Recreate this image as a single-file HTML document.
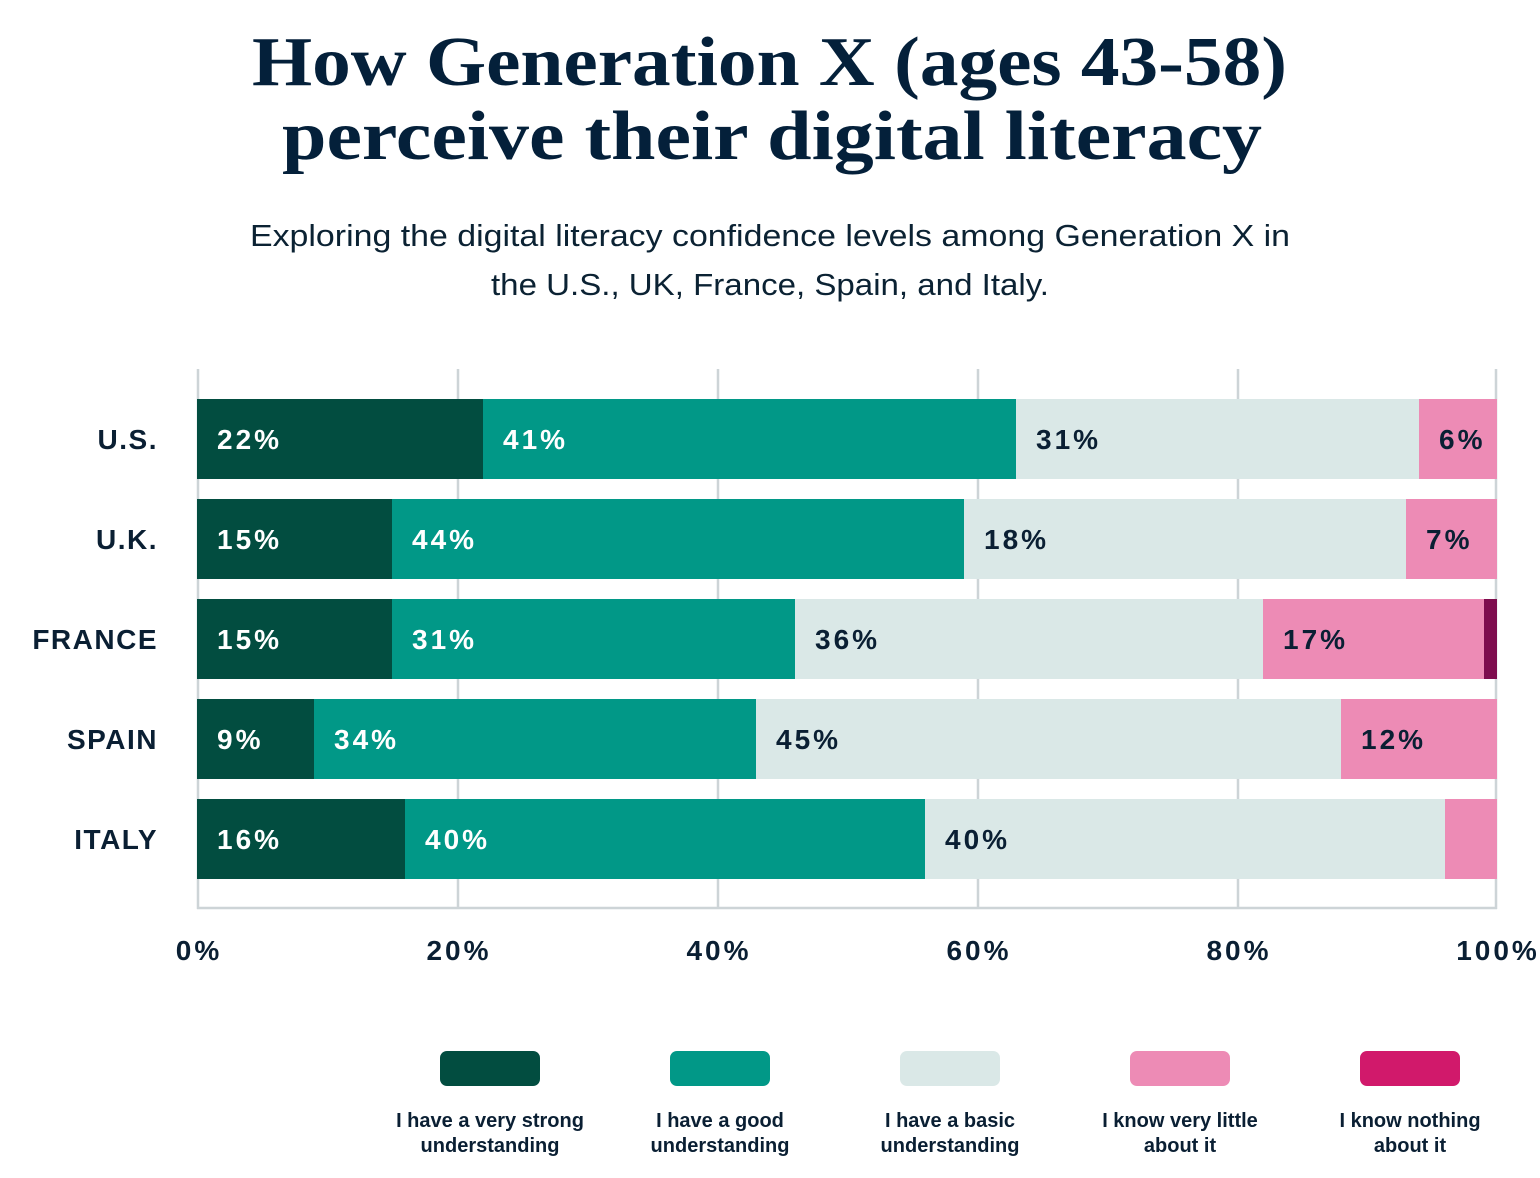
<!DOCTYPE html>
<html>
<head>
<meta charset="utf-8">
<style>
  html, body { margin: 0; padding: 0; background: #ffffff; }
  body { width: 1540px; height: 1178px; overflow: hidden; }
  svg { display: block; }
  .title { font-family: "Liberation Serif", serif; font-weight: bold; font-size: 70px; fill: #04203A; }
  .sub { font-family: "Liberation Sans", sans-serif; font-size: 31px; fill: #0B2233; }
  .cty { font-family: "Liberation Sans", sans-serif; font-weight: bold; font-size: 28px; fill: #0A1F33; letter-spacing: 1.5px; }
  .val { font-family: "Liberation Sans", sans-serif; font-weight: bold; font-size: 28px; letter-spacing: 3px; }
  .w { fill: #ffffff; }
  .d { fill: #0A1F33; }
  .tick { font-family: "Liberation Sans", sans-serif; font-weight: bold; font-size: 28px; fill: #0A1F33; letter-spacing: 3px; }
  .leg { font-family: "Liberation Sans", sans-serif; font-weight: bold; font-size: 20px; fill: #0A1F33; }
</style>
</head>
<body>
<svg width="1540" height="1178" viewBox="0 0 1540 1178" xmlns="http://www.w3.org/2000/svg">
  <!-- Title -->
  <text class="title" x="252" y="85" textLength="1035" lengthAdjust="spacingAndGlyphs">How Generation X (ages 43-58)</text>
  <text class="title" x="282" y="159" textLength="980" lengthAdjust="spacingAndGlyphs">perceive their digital literacy</text>

  <!-- Subtitle -->
  <text class="sub" x="250" y="246" textLength="1040" lengthAdjust="spacingAndGlyphs">Exploring the digital literacy confidence levels among Generation X in</text>
  <text class="sub" x="491" y="295" textLength="558" lengthAdjust="spacingAndGlyphs">the U.S., UK, France, Spain, and Italy.</text>

  <!-- Gridlines -->
  <g stroke="#CDD4D7" stroke-width="2.5">
    <line x1="198" y1="369" x2="198" y2="909"/>
    <line x1="458" y1="369" x2="458" y2="909"/>
    <line x1="718" y1="369" x2="718" y2="909"/>
    <line x1="978" y1="369" x2="978" y2="909"/>
    <line x1="1238" y1="369" x2="1238" y2="909"/>
    <line x1="1496" y1="369" x2="1496" y2="909"/>
    <line x1="197" y1="908" x2="1497" y2="908"/>
  </g>

  <!-- U.S. -->
  <rect x="197" y="399" width="286" height="80" fill="#024D40"/>
  <rect x="483" y="399" width="533" height="80" fill="#019887"/>
  <rect x="1016" y="399" width="403" height="80" fill="#DAE8E7"/>
  <rect x="1419" y="399" width="78" height="80" fill="#ED8BB5"/>
  <!-- U.K. -->
  <rect x="197" y="499" width="195" height="80" fill="#024D40"/>
  <rect x="392" y="499" width="572" height="80" fill="#019887"/>
  <rect x="964" y="499" width="442" height="80" fill="#DAE8E7"/>
  <rect x="1406" y="499" width="91" height="80" fill="#ED8BB5"/>
  <!-- FRANCE -->
  <rect x="197" y="599" width="195" height="80" fill="#024D40"/>
  <rect x="392" y="599" width="403" height="80" fill="#019887"/>
  <rect x="795" y="599" width="468" height="80" fill="#DAE8E7"/>
  <rect x="1263" y="599" width="221" height="80" fill="#ED8BB5"/>
  <rect x="1484" y="599" width="13" height="80" fill="#7E0D4E"/>
  <!-- SPAIN -->
  <rect x="197" y="699" width="117" height="80" fill="#024D40"/>
  <rect x="314" y="699" width="442" height="80" fill="#019887"/>
  <rect x="756" y="699" width="585" height="80" fill="#DAE8E7"/>
  <rect x="1341" y="699" width="156" height="80" fill="#ED8BB5"/>
  <!-- ITALY -->
  <rect x="197" y="799" width="208" height="80" fill="#024D40"/>
  <rect x="405" y="799" width="520" height="80" fill="#019887"/>
  <rect x="925" y="799" width="520" height="80" fill="#DAE8E7"/>
  <rect x="1445" y="799" width="52" height="80" fill="#ED8BB5"/>

  <!-- Country labels -->
  <text class="cty" x="158" y="449" text-anchor="end">U.S.</text>
  <text class="cty" x="158" y="549" text-anchor="end">U.K.</text>
  <text class="cty" x="158" y="649" text-anchor="end">FRANCE</text>
  <text class="cty" x="158" y="749" text-anchor="end">SPAIN</text>
  <text class="cty" x="158" y="849" text-anchor="end">ITALY</text>

  <!-- Value labels -->
  <text class="val w" x="217" y="449">22%</text>
  <text class="val w" x="503" y="449">41%</text>
  <text class="val d" x="1036" y="449">31%</text>
  <text class="val d" x="1439" y="449">6%</text>

  <text class="val w" x="217" y="549">15%</text>
  <text class="val w" x="412" y="549">44%</text>
  <text class="val d" x="984" y="549">18%</text>
  <text class="val d" x="1426" y="549">7%</text>

  <text class="val w" x="217" y="649">15%</text>
  <text class="val w" x="412" y="649">31%</text>
  <text class="val d" x="815" y="649">36%</text>
  <text class="val d" x="1283" y="649">17%</text>

  <text class="val w" x="217" y="749">9%</text>
  <text class="val w" x="334" y="749">34%</text>
  <text class="val d" x="776" y="749">45%</text>
  <text class="val d" x="1361" y="749">12%</text>

  <text class="val w" x="217" y="849">16%</text>
  <text class="val w" x="425" y="849">40%</text>
  <text class="val d" x="945" y="849">40%</text>

  <!-- Tick labels -->
  <text class="tick" x="199" y="960" text-anchor="middle">0%</text>
  <text class="tick" x="459" y="960" text-anchor="middle">20%</text>
  <text class="tick" x="719" y="960" text-anchor="middle">40%</text>
  <text class="tick" x="979" y="960" text-anchor="middle">60%</text>
  <text class="tick" x="1239" y="960" text-anchor="middle">80%</text>
  <text class="tick" x="1498" y="960" text-anchor="middle">100%</text>

  <!-- Legend -->
  <rect x="440" y="1051" width="100" height="35" rx="7" fill="#024D40"/>
  <rect x="670" y="1051" width="100" height="35" rx="7" fill="#019887"/>
  <rect x="900" y="1051" width="100" height="35" rx="7" fill="#DAE8E7"/>
  <rect x="1130" y="1051" width="100" height="35" rx="7" fill="#ED8BB5"/>
  <rect x="1360" y="1051" width="100" height="35" rx="7" fill="#D1196B"/>

  <text class="leg" x="490" y="1127" text-anchor="middle">I have a very strong</text>
  <text class="leg" x="490" y="1152" text-anchor="middle">understanding</text>
  <text class="leg" x="720" y="1127" text-anchor="middle">I have a good</text>
  <text class="leg" x="720" y="1152" text-anchor="middle">understanding</text>
  <text class="leg" x="950" y="1127" text-anchor="middle">I have a basic</text>
  <text class="leg" x="950" y="1152" text-anchor="middle">understanding</text>
  <text class="leg" x="1180" y="1127" text-anchor="middle">I know very little</text>
  <text class="leg" x="1180" y="1152" text-anchor="middle">about it</text>
  <text class="leg" x="1410" y="1127" text-anchor="middle">I know nothing</text>
  <text class="leg" x="1410" y="1152" text-anchor="middle">about it</text>
</svg>
</body>
</html>
